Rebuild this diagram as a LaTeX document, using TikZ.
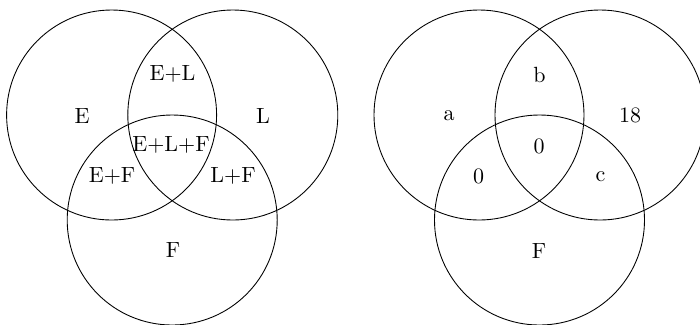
\documentclass[tikz,border=0pt]{standalone}
\begin{document}
\begin{tikzpicture}[x=0.4545pt,y=-0.4545pt,
  setcircle/.style={draw=black,line width=0.4pt},
  lab/.style={inner sep=0pt,anchor=center}]
\useasboundingbox (0,0) rectangle (700,324);
% left diagram
\draw[setcircle] (111.6,115) circle [radius=105];
\draw[setcircle] (232.8,115) circle [radius=105];
\draw[setcircle] (172.2,220) circle [radius=105];
\node[lab] (lE) at (82,116) {E};
\node[lab] (lEL) at (172.5,73.5) {E+L};
\node[lab] (lL) at (263,116) {L};
\node[lab] (lELF) at (171,144.5) {E+L+F};
\node[lab] (lEF) at (112,175.5) {E+F};
\node[lab] (lLF) at (233,175.5) {L+F};
\node[lab] (lF) at (173,250.5) {F};
% right diagram
\draw[setcircle] (479,115) circle [radius=105];
\draw[setcircle] (600,115) circle [radius=105];
\draw[setcircle] (539.5,220) circle [radius=105];
\node[lab] (ra) at (449,115.5) {a};
\node[lab] (rb) at (539.5,74.5) {b};
\node[lab] (r18) at (630,115) {18};
\node[lab] (rc0) at (539,146) {0};
\node[lab] (rl0) at (478.5,176) {0};
\node[lab] (rc) at (600.5,177) {c};
\node[lab] (rF) at (539,251) {F};
\end{tikzpicture}
\end{document}
